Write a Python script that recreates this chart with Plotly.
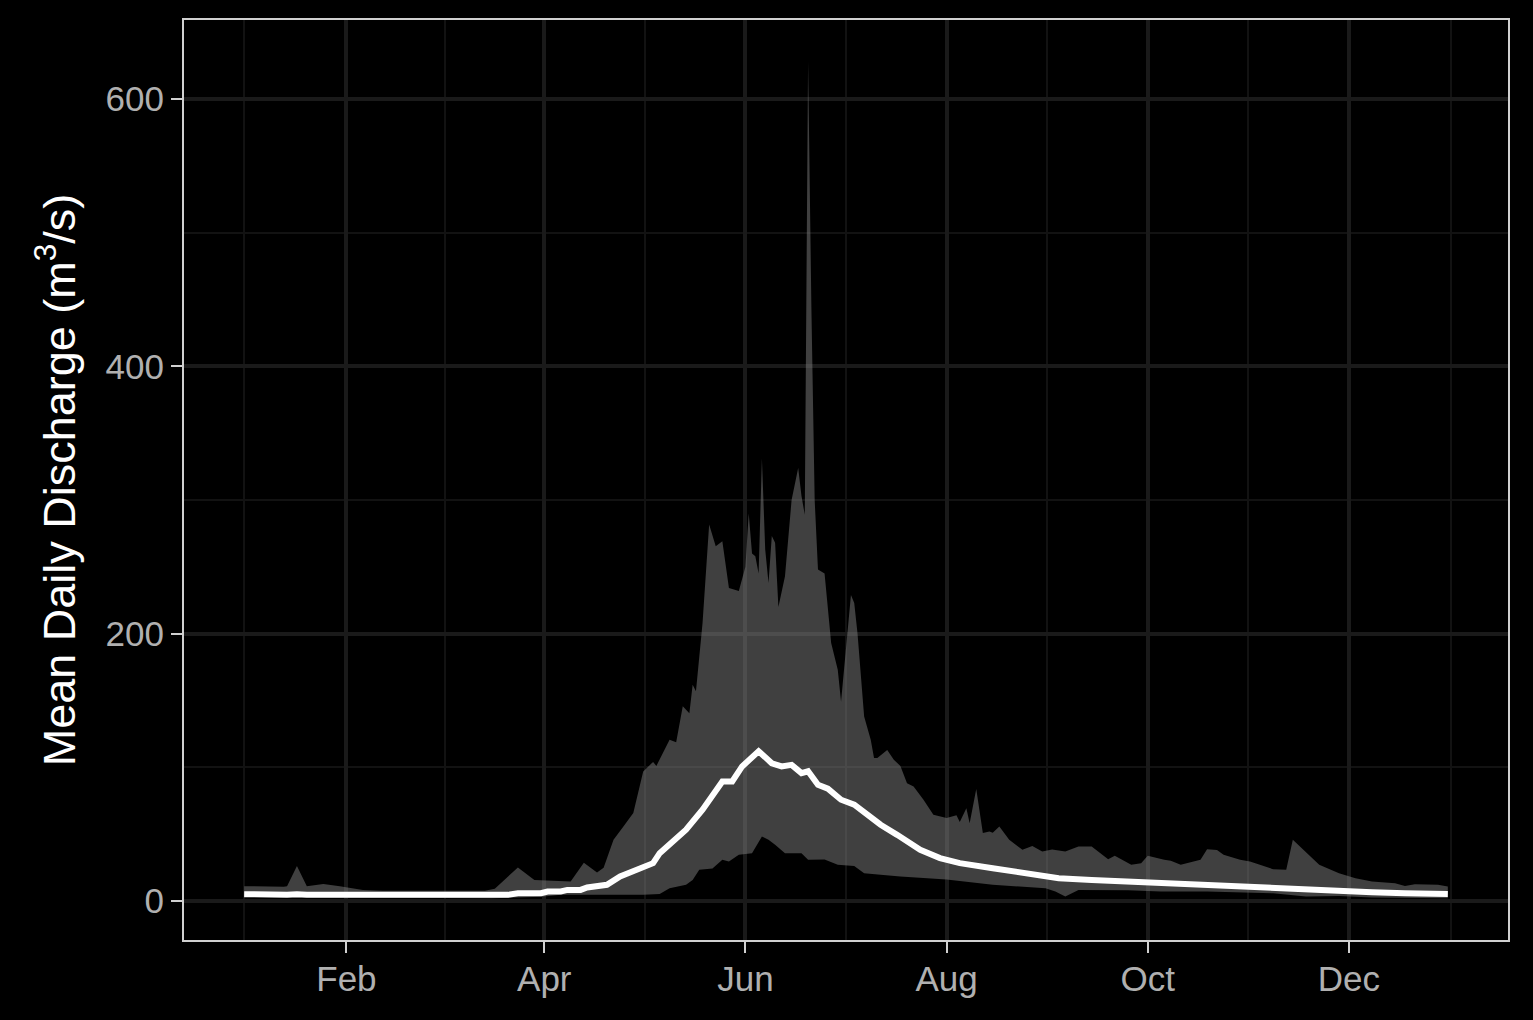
import pandas as pd
import plotly.graph_objects as go

# ---- data (day offsets from 1 Jan, discharge in m3/s) ----
max_day = [0, 6, 12, 13, 16, 19, 24, 29, 36, 42, 73, 76, 83, 88, 97, 99, 103, 107, 109, 112,
           115, 118, 121, 124, 125, 129, 131, 133, 135, 136, 137, 139, 141, 143, 145, 147, 150,
           152, 153, 154, 155, 156, 157, 158, 159, 160, 161, 162, 164, 166, 168, 169, 170, 171,
           172, 173, 174, 176, 178, 180, 181, 183, 184, 185, 186, 188, 190, 191, 192, 195, 197,
           199, 201, 203, 206, 209, 213, 216, 217, 219, 220, 222, 224, 226, 227, 229, 232, 236,
           239, 242, 245, 249, 253, 257, 262, 264, 269, 272, 274, 279, 281, 284, 290, 292, 295,
           297, 302, 305, 312, 316, 318, 326, 332, 337, 342, 349, 352, 355, 362, 365]
max_q = [11, 10.5, 10.5, 11, 26, 11, 12.7, 11, 8.2, 7.5, 7.5, 9, 25, 15.7, 14.5, 14.5, 28.5, 21.2,
         24.7, 45.7, 55.7, 65.7, 96.9, 104, 101, 120.6, 118.7, 145.6, 140.5, 161.8, 156.8, 208,
         281.6, 265.4, 269.2, 234.2, 232, 250, 290, 260, 258, 245, 331, 263, 238, 273, 268, 220,
         243, 300, 324, 303, 289, 628, 445, 300, 248, 245, 193, 173, 149, 200, 229, 223, 200, 138,
         120.6, 107, 107, 113, 105.6, 101, 88, 85.6, 75.7, 64.4, 62, 64, 59, 69.4, 58, 83.7, 50.7,
         52, 51, 55.7, 45.7, 38.2, 41, 37, 38.5, 37, 40.7, 40.7, 31.2, 33.7, 27, 28.2, 33.7, 30.7,
         30, 27, 30.7, 38.7, 38, 34.5, 30.7, 29.5, 23.7, 23.2, 45.7, 27, 20.7, 17, 14.4, 13.2,
         11.2, 12.5, 12, 10.7]

min_day = [0, 20, 50, 75, 90, 96, 121, 126, 129, 134, 136, 138, 142, 145, 147, 150, 154, 157,
           159, 161, 164, 169, 171, 176, 180, 185, 188, 193, 199, 205, 213, 227, 243, 246, 249,
           253, 268, 278, 292, 312, 322, 332, 342, 365]
min_q = [3, 3, 2.5, 2, 3, 4.5, 4.5, 5.2, 9.5, 12, 15.7, 23.2, 24.2, 30.7, 29.5, 34.5, 35.7, 48.2,
         45.7, 41.9, 35.7, 35.7, 30.7, 31, 27, 26, 20.7, 19.5, 18.2, 17, 16, 12, 9.5, 7, 3.2, 8.2,
         8, 7, 7, 5.7, 3.2, 3.7, 2.5, 2]

mean_day = [0, 7, 13, 16, 19, 80, 83, 90, 92, 96, 98, 102, 104, 110, 114, 124, 126, 134, 139,
            145, 148, 151, 155, 156, 160, 163, 166, 169, 171, 174, 177, 181, 185, 191, 193, 198,
            205, 211, 217, 227, 237, 247, 257, 268, 278, 282, 292, 302, 312, 322, 332, 342, 352,
            365]
mean_q = [5, 4.5, 4.5, 5, 4.5, 4.5, 5.7, 5.7, 7, 7, 8.2, 8.2, 10, 12, 18.2, 28.2, 35.7, 53.2,
          68.2, 89.4, 89.4, 100.6, 110.6, 112, 103, 100.6, 101.8, 95.6, 97, 86.9, 84, 75.7, 72,
          60.7, 57, 49.4, 38.2, 32, 28.2, 24.4, 20.7, 17, 15.7, 14.5, 13.2, 12, 11.2, 10.2, 8.7,
          8.2, 7, 6.5, 5.7, 5.2]

tick_dates = ["2020-02-01", "2020-04-01", "2020-06-01", "2020-08-01", "2020-10-01", "2020-12-01"]
tick_labels = ["Feb", "Apr", "Jun", "Aug", "Oct", "Dec"]
y_ticks = [0, 200, 400, 600]
y_minor = [100, 300, 500]

# ---- build ----
base = pd.Timestamp("2020-01-01")


def to_dates(days):
    return [base + pd.Timedelta(days=int(d)) for d in days]


max_dates = to_dates(max_day)
min_dates = to_dates(min_day)
mean_dates = to_dates(mean_day)

rib_x = max_dates + min_dates[::-1]
rib_y = max_q + min_q[::-1]

fig = go.Figure()
fig.add_trace(go.Scatter(x=rib_x, y=rib_y, mode="lines", fill="toself",
                         fillcolor="rgba(128,128,128,0.5)", line=dict(width=0),
                         hoverinfo="skip", showlegend=False))
fig.add_trace(go.Scatter(x=mean_dates, y=mean_q, mode="lines",
                         line=dict(color="white", width=6), showlegend=False))

# axis ranges (ggplot-like 5% expansion)
xmin, xmax = min(max_dates + min_dates + mean_dates), max(max_dates + min_dates + mean_dates)
xpad = (xmax - xmin) * 0.05
ymin, ymax = min(min_q + mean_q), max(max_q)
ypad = (ymax - ymin) * 0.05

majors = pd.to_datetime(tick_dates)
ext = [pd.Timestamp("2019-12-01")] + list(majors) + [pd.Timestamp("2021-02-01")]
minor_x = [a + (b - a) / 2 for a, b in zip(ext[:-1], ext[1:])]

axis_col = "#d0d0d0"
grid_major = "#1a1a1a"
grid_minor = "#121212"
fig.update_layout(
    width=1533, height=1020,
    margin=dict(l=184, r=25, t=20, b=80),
    paper_bgcolor="black", plot_bgcolor="black",
    font=dict(family="Liberation Sans, Arial, sans-serif", color="#b0b0b0"),
    showlegend=False,
    xaxis=dict(
        type="date", range=[xmin - xpad, xmax + xpad],
        tickmode="array", tickvals=list(majors), ticktext=tick_labels,
        showgrid=True, gridcolor=grid_major, gridwidth=3.5,
        minor=dict(tickmode="array", tickvals=minor_x, showgrid=True,
                   gridcolor=grid_minor, gridwidth=2, ticks=""),
        showline=True, linecolor=axis_col, linewidth=2, mirror=True,
        ticks="outside", ticklen=11, tickwidth=2, tickcolor=axis_col,
        ticklabelstandoff=-4,
        tickfont=dict(size=35, color="#b0b0b0"), zeroline=False,
    ),
    yaxis=dict(
        range=[ymin - ypad, ymax + ypad],
        tickmode="array", tickvals=y_ticks, ticktext=[str(v) for v in y_ticks],
        showgrid=True, gridcolor=grid_major, gridwidth=3.5,
        minor=dict(tickmode="array", tickvals=y_minor, showgrid=True,
                   gridcolor=grid_minor, gridwidth=2, ticks=""),
        showline=True, linecolor=axis_col, linewidth=2, mirror=True,
        ticks="outside", ticklen=11, tickwidth=2, tickcolor=axis_col,
        tickfont=dict(size=35, color="#b0b0b0"), zeroline=False,
        title=dict(text="Mean Daily Discharge (m<sup>3</sup>/s)",
                   font=dict(size=45, color="white"), standoff=16),
    ),
)

fig.write_html("out.html", config={"displayModeBar": False})
with open("out.html", "r", encoding="utf-8") as f:
    html = f.read()
html = html.replace("<body>", '<body style="margin:0;padding:0;overflow:hidden;">', 1)
with open("out.html", "w", encoding="utf-8") as f:
    f.write(html)
